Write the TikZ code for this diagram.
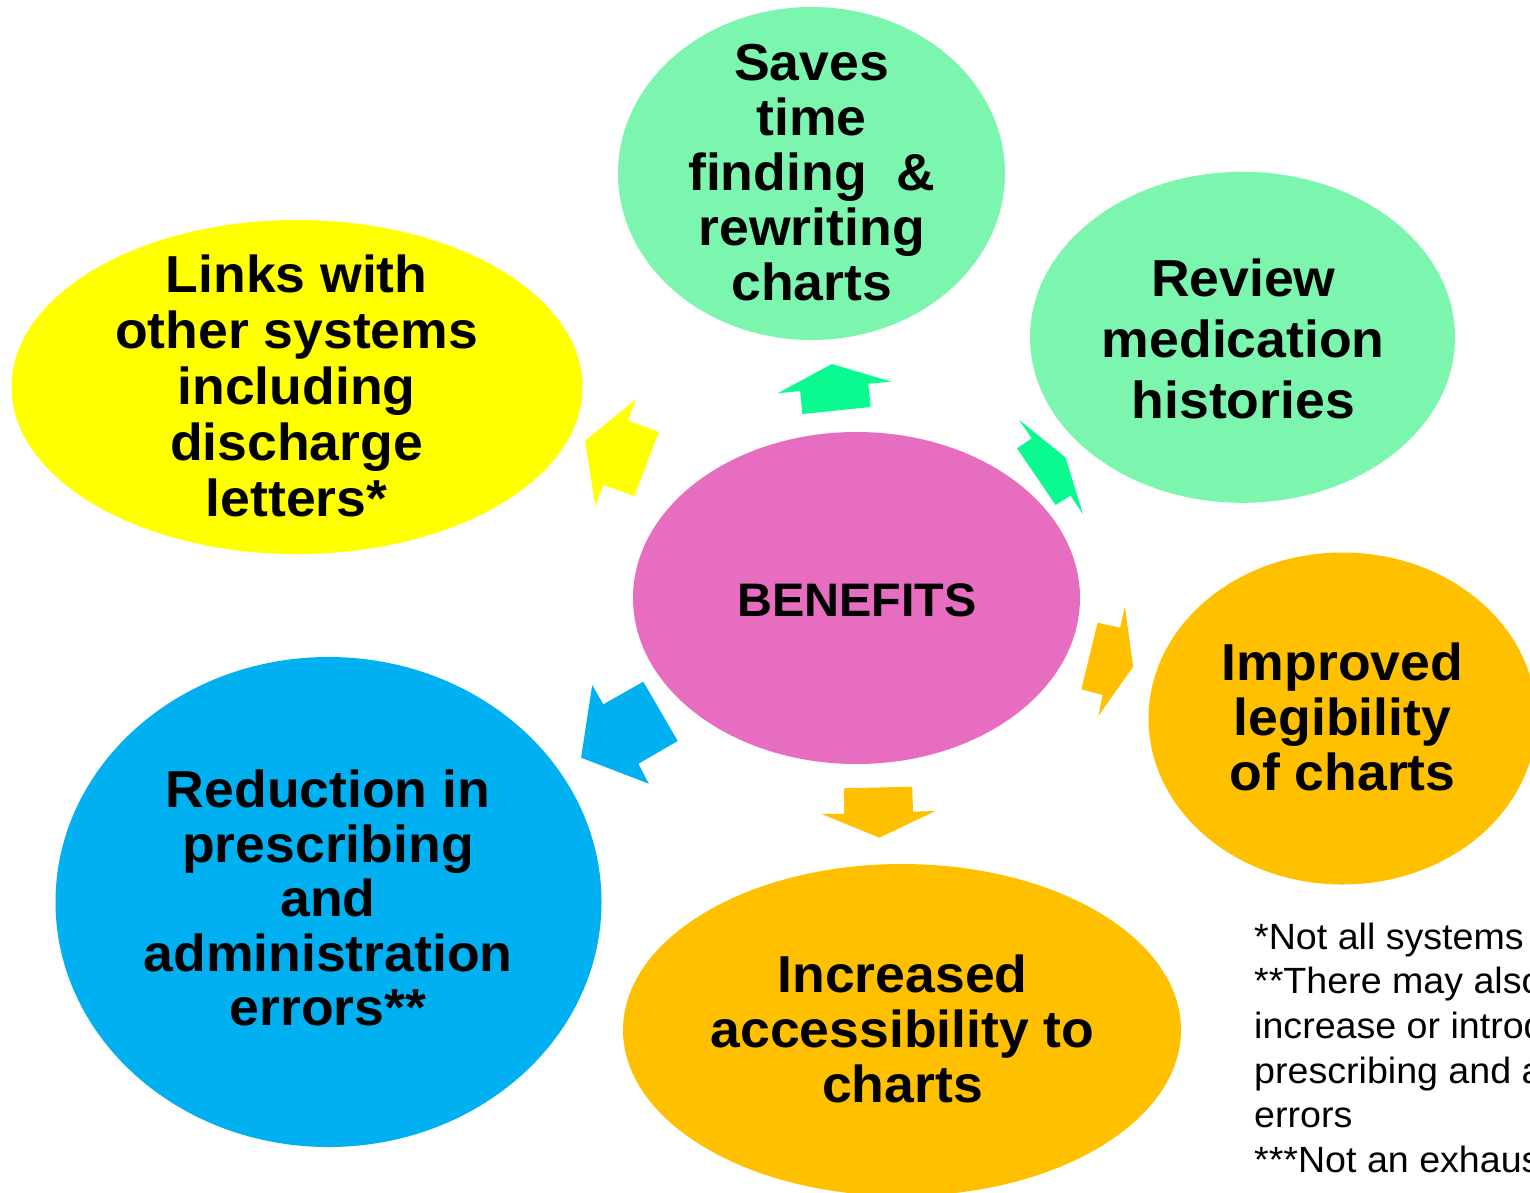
\documentclass[tikz,border=0pt]{standalone}
\usepackage{fontspec}
\setmainfont{Liberation Sans}[FakeStretch=1.03]
\usetikzlibrary{shapes.geometric}
\definecolor{cpink}{HTML}{E66DC0}
\definecolor{cgreen}{HTML}{7CF6AF}
\definecolor{carrowgreen}{HTML}{0AFA90}
\definecolor{cyellow}{HTML}{FFFF00}
\definecolor{corange}{HTML}{FFC000}
\definecolor{cblue}{HTML}{00B0F0}
\newcommand\mystrut{\rule[-16pt]{0pt}{54pt}}
\tikzset{
  bubble/.style={ellipse, draw=none, inner sep=0pt, outer sep=0pt},
  bigtext/.style={align=center, inner sep=0pt, font=\fontsize{52}{55}\selectfont\bfseries},
  blockarrow/.style={draw=none},
}
\begin{document}
\begin{tikzpicture}[x=1pt,y=-1pt]
\useasboundingbox (0,0) rectangle (1530,1192);
\clip (0,0) rectangle (1530,1192);

% bubbles
\node[bubble, fill=cpink,   minimum width=447pt, minimum height=332pt] (center)   at (856.5,598) {};
\node[bubble, fill=cgreen,  minimum width=387pt, minimum height=333pt] (saves)    at (811.5,173.5) {};
\node[bubble, fill=cgreen,  minimum width=425pt, minimum height=331pt] (review)   at (1242.5,337.3) {};
\node[bubble, fill=cyellow, minimum width=571pt, minimum height=334pt] (links)    at (297,387) {};
\node[bubble, fill=corange, minimum width=388pt, minimum height=332pt] (improved) at (1342.5,718.5) {};
\node[bubble, fill=corange, minimum width=558pt, minimum height=332pt] (access)   at (902,1030) {};
\node[bubble, fill=cblue,   minimum width=546pt, minimum height=490pt] (reduce)   at (328.5,902) {};

% block arrows
\fill[blockarrow, carrowgreen] (831.8,364) -- (891.1,381.7) -- (868.2,383.7) -- (870.7,407) -- (802.3,414) -- (800.2,391) -- (777.7,393.3) -- cycle;
\fill[blockarrow, carrowgreen] (1019.1,420) -- (1031.8,438.3) -- (1017,448.3) -- (1055.6,505) -- (1070.4,495.7) -- (1083,514) -- (1065.4,457.3) -- cycle;
\fill[blockarrow, cyellow] (636,399.3) -- (628,420.7) -- (658.8,432) -- (634.2,496) -- (603.3,485) -- (595.3,506) -- (585.1,440.7) -- cycle;
\fill[blockarrow, cblue] (592.2,685) -- (603.3,704.3) -- (643.3,681.7) -- (677.7,741) -- (638.4,763.7) -- (648.8,783.7) -- (581.1,757.7) -- cycle;
\fill[blockarrow, corange] (843.8,788.3) -- (912.2,786.7) -- (913,811.7) -- (935.5,811) -- (879.3,837.7) -- (821.6,814) -- (844.1,813.7) -- cycle;
\fill[blockarrow, corange] (1124.9,606.7) -- (1133.1,666.7) -- (1098.3,716) -- (1102.7,695) -- (1081.3,689.3) -- (1097.6,622.7) -- (1120.1,627.7) -- cycle;

% texts
\node[anchor=base, inner sep=0pt, font=\fontsize{47}{50}\selectfont\bfseries] (benefits) at (857,616.7) {BENEFITS};
\node[bigtext, font=\fontsize{52}{55.85}\selectfont\bfseries] (linkstext) at (296.6,393.3)
  {\mystrut Links with\\other systems\\including\\discharge\\letters*\mystrut};
\node[bigtext] (savestext) at (811.7,179)
  {\mystrut Saves\\time\\finding\ \ \&\\rewriting\\charts\mystrut};
\node[bigtext, font=\fontsize{52}{61.2}\selectfont\bfseries] (reviewtext) at (1243.3,346.2)
  {\mystrut Review\\medication\\histories\mystrut};
\node[bigtext] (improvedtext) at (1342.5,724)
  {\mystrut Improved\\legibility\\of charts\mystrut};
\node[bigtext, font=\fontsize{52}{54.7}\selectfont\bfseries] (accesstext) at (902.5,1036.3)
  {\mystrut Increased\\accessibility to\\charts\mystrut};
\node[bigtext, font=\fontsize{52}{54.5}\selectfont\bfseries] (reducetext) at (328,905.7)
  {\mystrut Reduction in\\prescribing\\and\\administration\\errors**\mystrut};

% footnotes
\node[anchor=north west, align=left, inner sep=0pt, font=\fontsize{36.5}{44.6}\selectfont] (notes) at (1254,919)
  {\rule{0pt}{30pt}*Not all systems\\**There may also\\increase or introd\\prescribing and a\\errors\\***Not an exhaus};
\end{tikzpicture}
\end{document}
